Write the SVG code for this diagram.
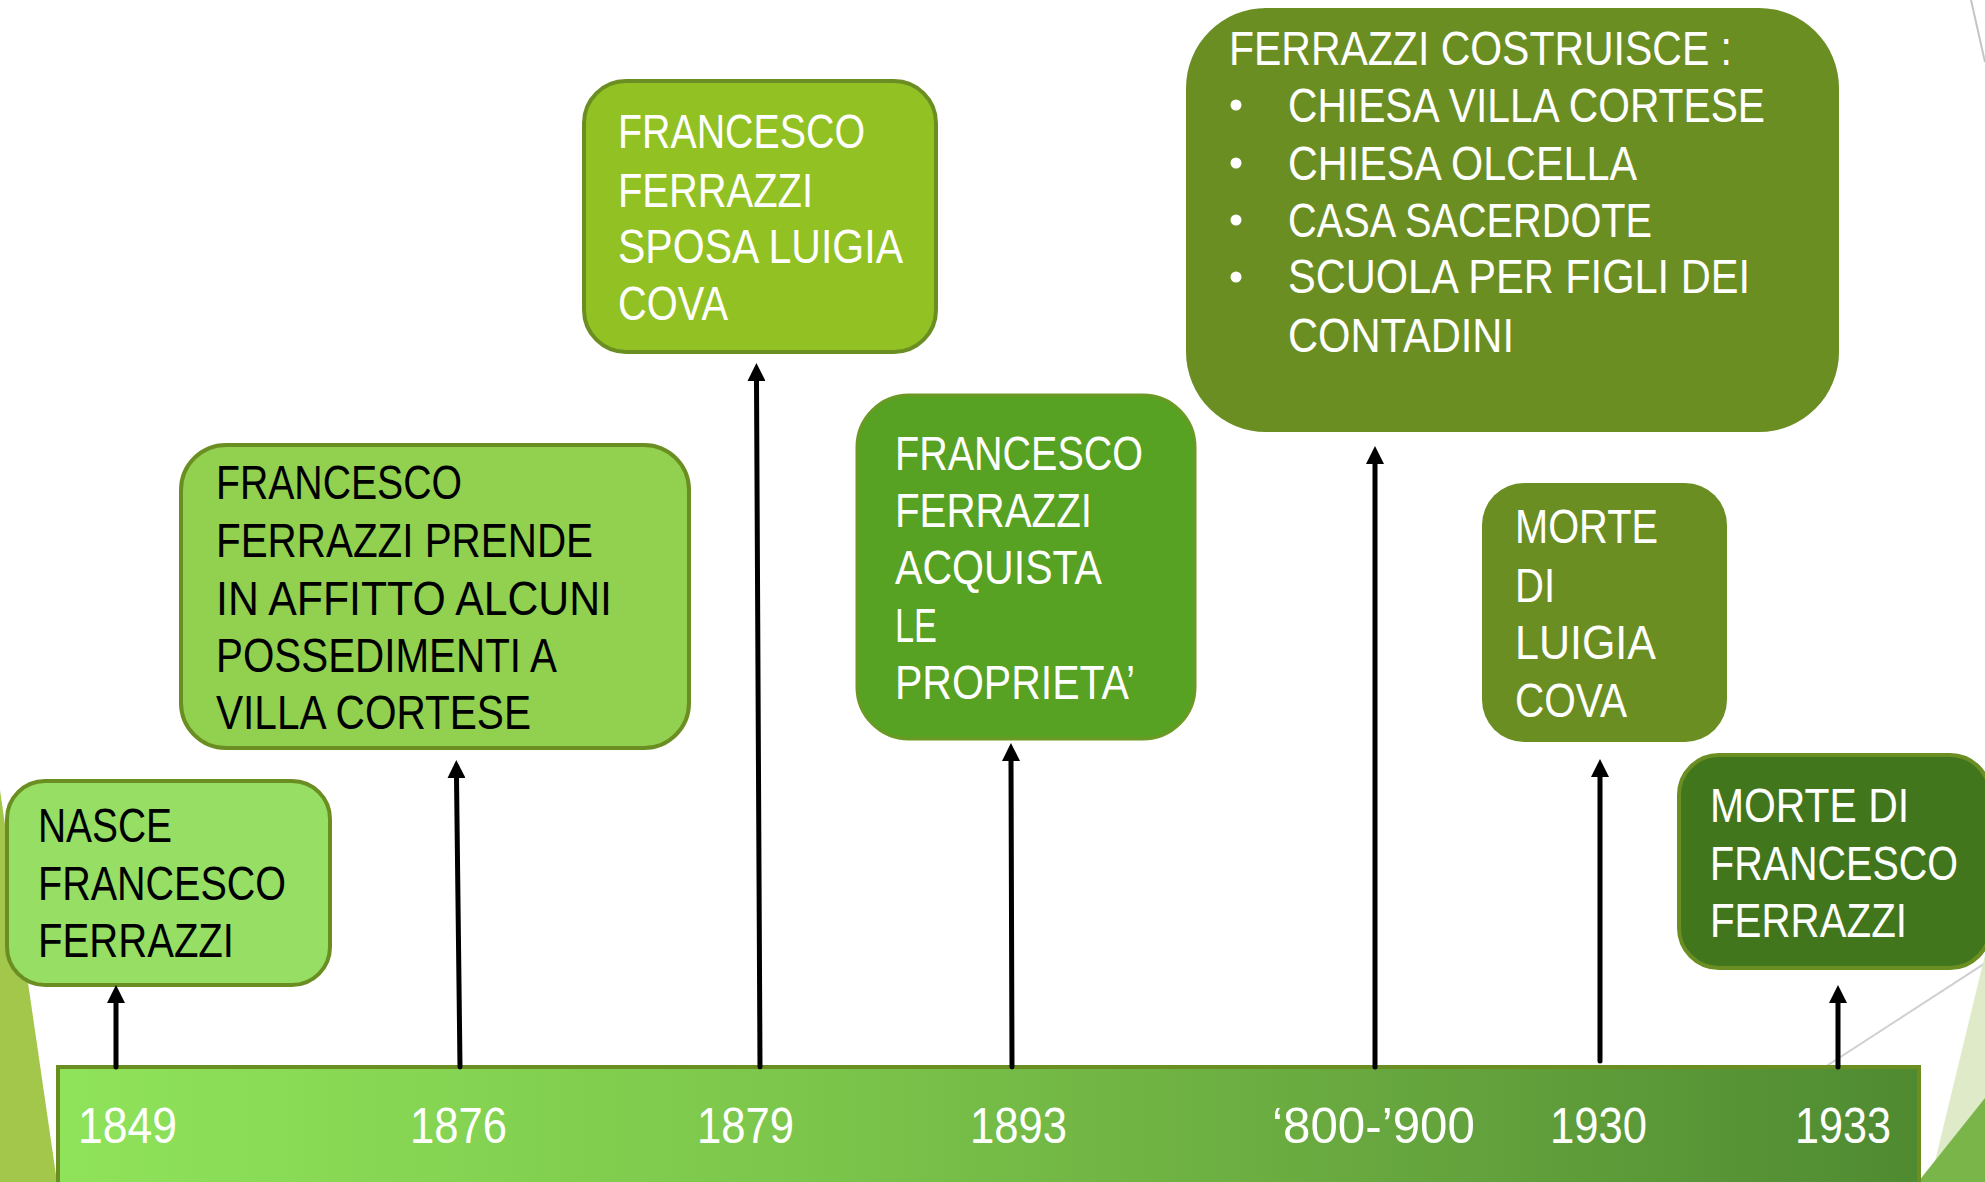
<svg xmlns="http://www.w3.org/2000/svg" width="1985" height="1182" viewBox="0 0 1985 1182">
<defs>
<linearGradient id="barGrad" x1="0" y1="0" x2="1" y2="0">
<stop offset="0" stop-color="#8fe35a"/>
<stop offset="0.4" stop-color="#7cc64b"/>
<stop offset="0.7" stop-color="#68a83f"/>
<stop offset="1" stop-color="#4f8a31"/>
</linearGradient>
<marker id="ah" viewBox="0 0 18 18" refX="0" refY="9" markerWidth="18" markerHeight="18" markerUnits="userSpaceOnUse" orient="auto">
<path d="M0,0 L18,9 L0,18 Z" fill="#000"/>
</marker>
</defs>
<style>
text{font-family:"Liberation Sans Narrow","Liberation Sans",Arial,sans-serif;font-size:48px}
.w{fill:#ffffff}
.b{fill:#000000}
.yr{fill:#ffffff;font-size:50px}
.box{stroke:#6b8e23;stroke-width:4}
.conn line{stroke:#000;stroke-width:5;stroke-linecap:round;marker-end:url(#ah)}
</style>
<rect width="1985" height="1182" fill="#ffffff"/>
<g id="decor">
<polygon points="0,790 57,1182 0,1182" fill="#a3c74a"/>
<line x1="1971" y1="0" x2="1985" y2="62" stroke="#c4c4c4" stroke-width="2"/>
<line x1="1825" y1="1067" x2="1990" y2="960" stroke="#d0d0d0" stroke-width="2"/>
<polygon points="1985,955 1985,1182 1930,1182" fill="#dfeac9"/>
<polygon points="1985,1098 1985,1182 1918,1182" fill="#7ab54a"/>
</g>
<g id="timeline">
<rect x="58" y="1067" width="1861" height="125" fill="url(#barGrad)" stroke="#6b8e23" stroke-width="4"/>
<text class="yr" x="78" y="1143" textLength="99" lengthAdjust="spacingAndGlyphs">1849</text>
<text class="yr" x="410" y="1143" textLength="97" lengthAdjust="spacingAndGlyphs">1876</text>
<text class="yr" x="697" y="1143" textLength="97" lengthAdjust="spacingAndGlyphs">1879</text>
<text class="yr" x="970" y="1143" textLength="97" lengthAdjust="spacingAndGlyphs">1893</text>
<text class="yr" x="1272" y="1143" textLength="203" lengthAdjust="spacingAndGlyphs">‘800-’900</text>
<text class="yr" x="1550" y="1143" textLength="97" lengthAdjust="spacingAndGlyphs">1930</text>
<text class="yr" x="1795" y="1143" textLength="96" lengthAdjust="spacingAndGlyphs">1933</text>
</g>
<g id="node1849">
<rect class="box" x="7" y="781" width="323" height="204" rx="38" fill="#96de64"/>
<text class="b" x="38" y="842" textLength="134" lengthAdjust="spacingAndGlyphs">NASCE</text>
<text class="b" x="38" y="900" textLength="248" lengthAdjust="spacingAndGlyphs">FRANCESCO</text>
<text class="b" x="38" y="957" textLength="196" lengthAdjust="spacingAndGlyphs">FERRAZZI</text>
</g>
<g id="node1876">
<rect class="box" x="181" y="445" width="508" height="303" rx="45" fill="#92d050"/>
<text class="b" x="216" y="499" textLength="246" lengthAdjust="spacingAndGlyphs">FRANCESCO</text>
<text class="b" x="216" y="557" textLength="377" lengthAdjust="spacingAndGlyphs">FERRAZZI PRENDE</text>
<text class="b" x="216" y="615" textLength="396" lengthAdjust="spacingAndGlyphs">IN AFFITTO ALCUNI</text>
<text class="b" x="216" y="672" textLength="341" lengthAdjust="spacingAndGlyphs">POSSEDIMENTI A</text>
<text class="b" x="216" y="729" textLength="315" lengthAdjust="spacingAndGlyphs">VILLA CORTESE</text>
</g>
<g id="node1879">
<rect class="box" x="584" y="81" width="352" height="271" rx="42" fill="#92c123"/>
<text class="w" x="618" y="148" textLength="247" lengthAdjust="spacingAndGlyphs">FRANCESCO</text>
<text class="w" x="618" y="207" textLength="195" lengthAdjust="spacingAndGlyphs">FERRAZZI</text>
<text class="w" x="618" y="263" textLength="285" lengthAdjust="spacingAndGlyphs">SPOSA LUIGIA</text>
<text class="w" x="618" y="320" textLength="110" lengthAdjust="spacingAndGlyphs">COVA</text>
</g>
<g id="node1893">
<rect x="857" y="395" width="338" height="344" rx="52" fill="#57a123" stroke="#6a9a24" stroke-width="3"/>
<text class="w" x="895" y="470" textLength="248" lengthAdjust="spacingAndGlyphs">FRANCESCO</text>
<text class="w" x="895" y="527" textLength="197" lengthAdjust="spacingAndGlyphs">FERRAZZI</text>
<text class="w" x="895" y="584" textLength="207" lengthAdjust="spacingAndGlyphs">ACQUISTA</text>
<text class="w" x="895" y="642" textLength="42" lengthAdjust="spacingAndGlyphs">LE</text>
<text class="w" x="895" y="699" textLength="240" lengthAdjust="spacingAndGlyphs">PROPRIETA’</text>
</g>
<g id="node800">
<rect x="1186" y="8" width="653" height="424" rx="80" fill="#6b8e23"/>
<text class="w" x="1229" y="65" textLength="503" lengthAdjust="spacingAndGlyphs">FERRAZZI COSTRUISCE :</text>
<circle cx="1236" cy="105" r="5.5" fill="#fff"/>
<circle cx="1236" cy="163" r="5.5" fill="#fff"/>
<circle cx="1236" cy="220" r="5.5" fill="#fff"/>
<circle cx="1236" cy="277" r="5.5" fill="#fff"/>
<text class="w" x="1288" y="122" textLength="477" lengthAdjust="spacingAndGlyphs">CHIESA VILLA CORTESE</text>
<text class="w" x="1288" y="180" textLength="349" lengthAdjust="spacingAndGlyphs">CHIESA OLCELLA</text>
<text class="w" x="1288" y="237" textLength="364" lengthAdjust="spacingAndGlyphs">CASA SACERDOTE</text>
<text class="w" x="1288" y="293" textLength="462" lengthAdjust="spacingAndGlyphs">SCUOLA PER FIGLI DEI</text>
<text class="w" x="1288" y="352" textLength="226" lengthAdjust="spacingAndGlyphs">CONTADINI</text>
</g>
<g id="node1930">
<rect x="1482" y="483" width="245" height="259" rx="42" fill="#6b8e23"/>
<text class="w" x="1515" y="543" textLength="143" lengthAdjust="spacingAndGlyphs">MORTE</text>
<text class="w" x="1515" y="602" textLength="40" lengthAdjust="spacingAndGlyphs">DI</text>
<text class="w" x="1515" y="659" textLength="141" lengthAdjust="spacingAndGlyphs">LUIGIA</text>
<text class="w" x="1515" y="717" textLength="112" lengthAdjust="spacingAndGlyphs">COVA</text>
</g>
<g id="node1933">
<rect class="box" x="1679" y="755" width="311" height="213" rx="40" fill="#41761c"/>
<text class="w" x="1710" y="822" textLength="199" lengthAdjust="spacingAndGlyphs">MORTE DI</text>
<text class="w" x="1710" y="880" textLength="248" lengthAdjust="spacingAndGlyphs">FRANCESCO</text>
<text class="w" x="1710" y="937" textLength="197" lengthAdjust="spacingAndGlyphs">FERRAZZI</text>
</g>
<g id="connectors" class="conn">
<line x1="116" y1="1067" x2="116" y2="1003"/>
<line x1="460" y1="1067" x2="456.5" y2="778"/>
<line x1="760" y1="1067" x2="756.5" y2="381"/>
<line x1="1012" y1="1067" x2="1011" y2="761"/>
<line x1="1375" y1="1067" x2="1375" y2="464"/>
<line x1="1600" y1="1061" x2="1600" y2="777"/>
<line x1="1838" y1="1067" x2="1838" y2="1003"/>
</g>
</svg>
